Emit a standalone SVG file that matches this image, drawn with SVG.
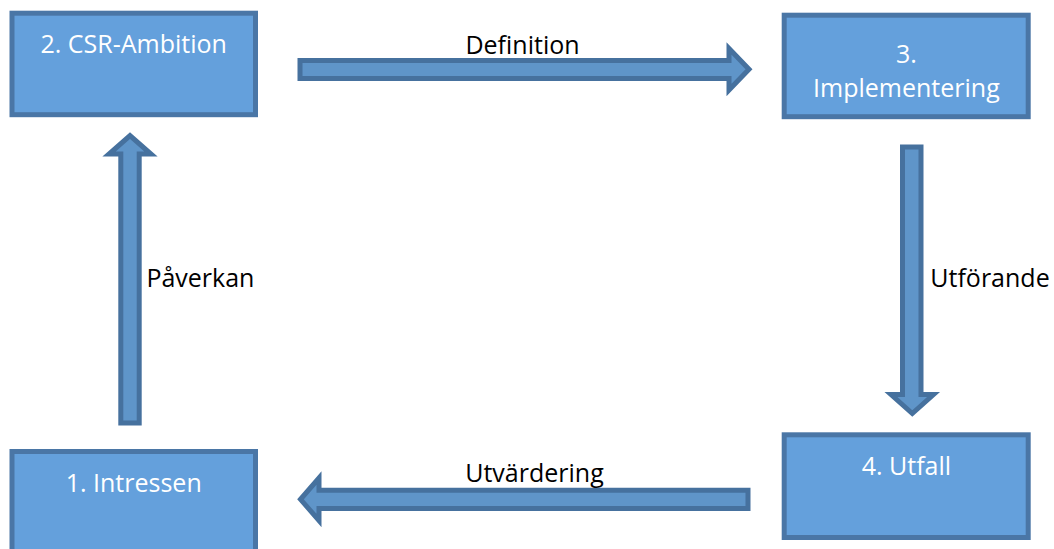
<svg xmlns="http://www.w3.org/2000/svg" width="1054" height="549" viewBox="0 0 1054 549">
<style>
.box{fill:#64A0DC;stroke:#4A76A6;stroke-width:5}
.arr{fill:#5F95C9;stroke:#46719E;stroke-width:5;stroke-linejoin:miter}
.bt{font-family:"Open Sans","DejaVu Sans",sans-serif;font-size:25px;fill:#FFFFFF;text-anchor:middle}
.lt{font-family:"Open Sans","DejaVu Sans",sans-serif;font-size:25px;fill:#000000;text-anchor:middle}
</style>
<rect width="1054" height="549" fill="#FFFFFF"/>
<g id="connectors">
<g id="c-definition">
<path class="arr" d="M300,60.5 H729 V48.5 L749,69.3 L729,90 V78.5 H300 Z"/>
<text class="lt" x="522.5" y="53.5">Definition</text>
</g>
<g id="c-utforande">
<path class="arr" d="M902.5,147 V394.5 H891 L912.3,413.5 L933.5,394.5 H921 V147 Z"/>
<text class="lt" x="990" y="286.7">Utförande</text>
</g>
<g id="c-utvardering">
<path class="arr" d="M748,490.2 H319 V478 L300.5,499.3 L319,520.5 V508.5 H748 Z"/>
<text class="lt" x="534.5" y="482.3">Utvärdering</text>
</g>
<g id="c-paverkan">
<path class="arr" d="M120.8,423 V154 H109 L130,135.5 L151,154 H139.2 V423 Z"/>
<text class="lt" x="200.4" y="286.7">Påverkan</text>
</g>
</g>
<g id="node-2">
<rect class="box" x="12" y="13.2" width="243.5" height="101.5"/>
<text class="bt" x="133.7" y="53.3">2. CSR-Ambition</text>
</g>
<g id="node-3">
<rect class="box" x="784.2" y="15.2" width="244" height="101.5"/>
<text class="bt" x="906.4" y="63.3">3.</text>
<text class="bt" x="906.4" y="96.7">Implementering</text>
</g>
<g id="node-1">
<rect class="box" x="12" y="451.5" width="243.5" height="110"/>
<text class="bt" x="133.7" y="491.7">1. Intressen</text>
</g>
<g id="node-4">
<rect class="box" x="784.2" y="434.8" width="244" height="102.7"/>
<text class="bt" x="906.4" y="475">4. Utfall</text>
</g>
</svg>
